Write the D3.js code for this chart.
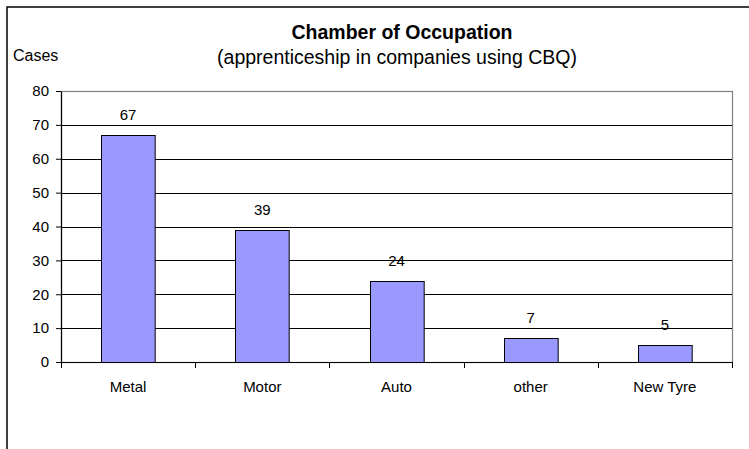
<!DOCTYPE html>
<html>
<head>
<meta charset="utf-8">
<script src="https://cdn.jsdelivr.net/npm/d3@7"></script>
<style>
  body { margin: 0; background: #fff; }
  svg { display: block; font-family: Arial, "Liberation Sans", sans-serif; }
</style>
</head>
<body>
<div id="chart"></div>
<script>
// chart data
const categories = ["Metal", "Motor", "Auto", "other", "New Tyre"];
const cases = [67, 39, 24, 7, 5];
const yTicks = [0, 10, 20, 30, 40, 50, 60, 70, 80];

const width = 749, height = 449;
const plot = { left: 61, right: 732, top: 91, bottom: 362 };

const svg = d3.select("#chart").append("svg")
    .attr("width", width)
    .attr("height", height);

// outer chart frame (only top and left edges are visible)
svg.append("rect")
    .attr("x", 7).attr("y", 7)
    .attr("width", width + 20).attr("height", height + 20)
    .attr("fill", "#fff")
    .attr("stroke", "#000")
    .attr("stroke-width", 1.5);

const x = d3.scaleBand()
    .domain(categories)
    .range([plot.left, plot.right])
    .paddingInner(0.6)
    .paddingOuter(0.3);

const y = d3.scaleLinear()
    .domain([0, 80])
    .range([plot.bottom, plot.top]);

// plot area background + gray border (top / right)
svg.append("rect")
    .attr("x", plot.left + 0.5).attr("y", plot.top + 0.5)
    .attr("width", plot.right - plot.left).attr("height", plot.bottom - plot.top)
    .attr("fill", "#fff")
    .attr("stroke", "#808080")
    .attr("stroke-width", 1.2);

// gridlines
svg.append("g")
    .selectAll("line")
    .data(yTicks.filter(d => d > 0 && d < 80))
    .join("line")
    .attr("x1", plot.left).attr("x2", plot.right)
    .attr("y1", d => Math.round(y(d)) + 0.5)
    .attr("y2", d => Math.round(y(d)) + 0.5)
    .attr("stroke", "#000")
    .attr("stroke-width", 1);

// bars
svg.append("g")
    .selectAll("rect")
    .data(cases)
    .join("rect")
    .attr("x", (d, i) => Math.round(x(categories[i])) + 0.5)
    .attr("y", d => Math.round(y(d)) + 0.5)
    .attr("width", x.bandwidth())
    .attr("height", d => y(0) - Math.round(y(d)))
    .attr("fill", "#9999ff")
    .attr("stroke", "#000")
    .attr("stroke-width", 1);

// value labels
svg.append("g")
    .selectAll("text")
    .data(cases)
    .join("text")
    .attr("x", (d, i) => x(categories[i]) + x.bandwidth() / 2)
    .attr("y", d => y(d) - 15)
    .attr("text-anchor", "middle")
    .attr("font-size", 15)
    .attr("fill", "#000")
    .text(d => d);

// y axis
const yAxis = svg.append("g")
    .attr("transform", `translate(${plot.left},0)`)
    .call(d3.axisLeft(y).tickValues(yTicks).tickSize(5).tickPadding(7).tickSizeOuter(0));
yAxis.select(".domain").attr("stroke", "#000").attr("stroke-width", 1.2);
yAxis.selectAll(".tick line").attr("stroke", "#000");
yAxis.selectAll(".tick text")
    .attr("font-size", 15)
    .attr("font-family", "Arial, 'Liberation Sans', sans-serif")
    .attr("fill", "#000");

// x axis with ticks at category boundaries
const xAxisG = svg.append("g");
xAxisG.append("line")
    .attr("x1", plot.left).attr("x2", plot.right + 1)
    .attr("y1", plot.bottom + 0.5).attr("y2", plot.bottom + 0.5)
    .attr("stroke", "#000").attr("stroke-width", 1.2);
xAxisG.selectAll("line.tick")
    .data(d3.range(categories.length + 1))
    .join("line")
    .attr("class", "tick")
    .attr("x1", i => Math.round(plot.left + i * x.step()) + 0.5)
    .attr("x2", i => Math.round(plot.left + i * x.step()) + 0.5)
    .attr("y1", plot.bottom)
    .attr("y2", plot.bottom + 6)
    .attr("stroke", "#000");
xAxisG.selectAll("text")
    .data(categories)
    .join("text")
    .attr("x", d => x(d) + x.bandwidth() / 2)
    .attr("y", 392)
    .attr("text-anchor", "middle")
    .attr("font-size", 15)
    .attr("fill", "#000")
    .text(d => d);

// titles
svg.append("text")
    .attr("x", 402).attr("y", 39)
    .attr("text-anchor", "middle")
    .attr("font-size", 19.5)
    .attr("font-weight", "bold")
    .text("Chamber of Occupation");
svg.append("text")
    .attr("x", 397).attr("y", 64)
    .attr("text-anchor", "middle")
    .attr("font-size", 19.5)
    .text("(apprenticeship in companies using CBQ)");

svg.append("text")
    .attr("x", 13).attr("y", 61)
    .attr("font-size", 16)
    .text("Cases");
</script>
</body>
</html>
